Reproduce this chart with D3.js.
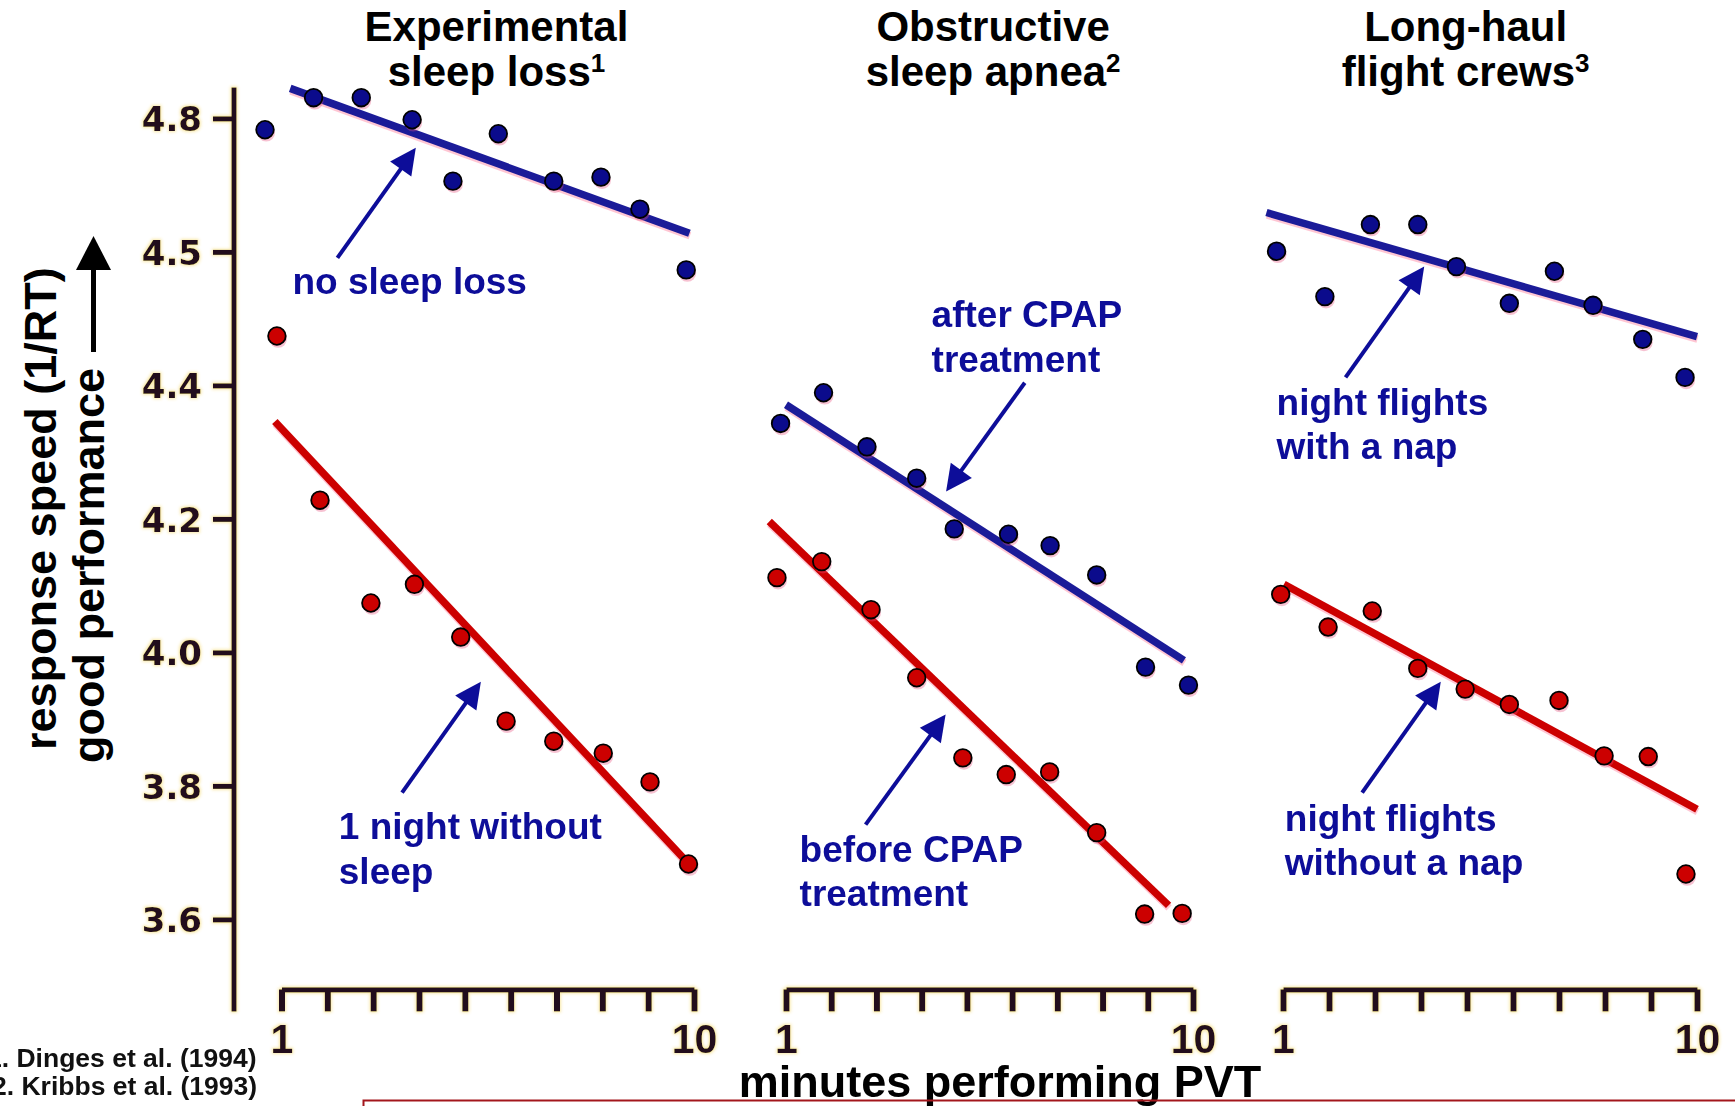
<!DOCTYPE html>
<html>
<head>
<meta charset="utf-8">
<script src="https://cdn.jsdelivr.net/npm/d3@7"></script>
<style>
  html, body { margin: 0; padding: 0; background: #ffffff; }
  svg { display: block; }
  .sans { font-family: "Liberation Sans", Arial, Helvetica, sans-serif; font-weight: bold; }
</style>
</head>
<body>
<svg id="chart" width="1735" height="1106"></svg>
<script>
// ---- Response speed (1/RT) across the minutes of a 10-minute PVT session ----

const minuteTicks = [1, 2, 3, 4, 5, 6, 7, 8, 9, 10];
const minuteTickLabels = ["1", "", "", "", "", "", "", "", "", "10"];
const speedTicks = [4.8, 4.6, 4.4, 4.2, 4.0, 3.8, 3.6];
const speedTickLabels = ["4.8", "4.5", "4.4", "4.2", "4.0", "3.8", "3.6"];

const panelTitles = [
  ["Experimental", "sleep loss", "1"],
  ["Obstructive", "sleep apnea", "2"],
  ["Long-haul", "flight crews", "3"]
];

const footnotes = ["1. Dinges et al. (1994)", "2. Kribbs et al. (1993)"];

// Experimental sleep loss: [minute, response speed]
const noSleepLoss = [[0.64, 4.783], [1.70, 4.831], [2.74, 4.831], [3.85, 4.798], [4.74, 4.706],
                     [5.73, 4.777], [6.94, 4.706], [7.97, 4.712], [8.82, 4.664], [9.83, 4.573]];
const noSleepLossFit = [[1.19, 4.845], [9.90, 4.628]];
const oneNightWithoutSleep = [[0.90, 4.474], [1.84, 4.228], [2.95, 4.074], [3.90, 4.102], [4.91, 4.023],
                              [5.90, 3.897], [6.94, 3.867], [8.02, 3.849], [9.04, 3.806], [9.88, 3.683]];
const oneNightWithoutSleepFit = [[0.855, 4.346], [9.93, 3.680]];

// Obstructive sleep apnea
const afterCPAP = [[0.88, 4.343], [1.83, 4.389], [2.79, 4.308], [3.89, 4.261], [4.72, 4.185],
                   [5.92, 4.177], [6.84, 4.160], [7.87, 4.116], [8.95, 3.978], [9.90, 3.951]];
const afterCPAPFit = [[1.0, 4.371], [9.80, 3.988]];
const beforeCPAP = [[0.80, 4.112], [1.79, 4.136], [2.88, 4.064], [3.89, 3.962], [4.91, 3.842],
                    [5.87, 3.817], [6.83, 3.821], [7.87, 3.730], [8.93, 3.608], [9.76, 3.609]];
const beforeCPAPFit = [[0.63, 4.196], [9.46, 3.621]];

// Long-haul flight crews
const flightsWithNap = [[0.86, 4.601], [1.91, 4.533], [2.90, 4.641], [3.93, 4.641], [4.77, 4.578],
                        [5.92, 4.523], [6.90, 4.571], [7.74, 4.520], [8.82, 4.469], [9.74, 4.412]];
const flightsWithNapFit = [[0.64, 4.659], [10.0, 4.473]];
const flightsWithoutNap = [[0.95, 4.087], [1.98, 4.038], [2.94, 4.062], [3.93, 3.976], [4.96, 3.945],
                           [5.92, 3.922], [7.00, 3.928], [7.98, 3.845], [8.94, 3.844], [9.76, 3.668]];
const flightsWithoutNapFit = [[1.02, 4.102], [10.0, 3.765]];

// ---- layout ----
const BLUE_DOT = "#0b0b8c", BLUE_LINE = "#1b1b98", RED = "#cc0000", NOTE = "#0d0d99";
const AXIS_INK = "#220e1c";

const panelRanges = [[281.5, 694], [786, 1193], [1283, 1697]];
const titleCenters = [5.69, 5.58, 4.97];   // in minutes, per panel

const panels = [
  { series: [
      { pts: noSleepLoss, fit: noSleepLossFit, dot: BLUE_DOT, line: BLUE_LINE },
      { pts: oneNightWithoutSleep, fit: oneNightWithoutSleepFit, dot: RED, line: RED } ] },
  { series: [
      { pts: afterCPAP, fit: afterCPAPFit, dot: BLUE_DOT, line: BLUE_LINE },
      { pts: beforeCPAP, fit: beforeCPAPFit, dot: RED, line: RED } ] },
  { series: [
      { pts: flightsWithNap, fit: flightsWithNapFit, dot: BLUE_DOT, line: BLUE_LINE },
      { pts: flightsWithoutNap, fit: flightsWithoutNapFit, dot: RED, line: RED } ] }
];

// callouts, placed in data units of their panel
const callouts = [
  { panel: 0, lines: ["no sleep loss"], at: [1.24, 4.537], tail: [2.22, 4.591], tip: [3.93, 4.756] },
  { panel: 0, lines: ["1 night without", "sleep"], at: [2.25, 3.720], tail: [3.63, 3.790], tip: [5.35, 3.956] },
  { panel: 1, lines: ["after CPAP", "treatment"], at: [4.22, 4.487], tail: [6.28, 4.404], tip: [4.54, 4.241] },
  { panel: 1, lines: ["before CPAP", "treatment"], at: [1.30, 3.686], tail: [2.76, 3.742], tip: [4.53, 3.907] },
  { panel: 2, lines: ["night flights", "with a nap"], at: [0.86, 4.356], tail: [2.36, 4.412], tip: [4.07, 4.578] },
  { panel: 2, lines: ["night flights", "without a nap"], at: [1.04, 3.733], tail: [2.72, 3.790], tip: [4.43, 3.956] }
];

const svg = d3.select("#chart");

// scanned-print look for the axes: soft edges with a warm halo
const defs = svg.append("defs");
const f = defs.append("filter").attr("id", "scan")
  .attr("filterUnits", "userSpaceOnUse").attr("x", -600).attr("y", -1200)
  .attr("width", 3000).attr("height", 3000);
f.append("feMorphology").attr("in", "SourceAlpha").attr("operator", "dilate").attr("radius", 1.3).attr("result", "fat");
f.append("feGaussianBlur").attr("in", "fat").attr("stdDeviation", 1.4).attr("result", "soft");
f.append("feFlood").attr("flood-color", "#f0cc3a").attr("flood-opacity", 0.45);
f.append("feComposite").attr("in2", "soft").attr("operator", "in").attr("result", "glow");
f.append("feGaussianBlur").attr("in", "SourceGraphic").attr("stdDeviation", 0.5).attr("result", "src");
const m = f.append("feMerge");
m.append("feMergeNode").attr("in", "glow");
m.append("feMergeNode").attr("in", "src");

const y = d3.scaleLinear().domain([3.6, 4.8]).range([919.4, 118.4]);
const xScales = panelRanges.map(r => d3.scaleLinear().domain([1, 10]).range(r));

// ---- y axis ----
const yAxisG = svg.append("g").attr("filter", "url(#scan)").attr("transform", "translate(234,0)");
yAxisG.call(d3.axisLeft(y).tickValues(speedTicks)
  .tickFormat((d, i) => speedTickLabels[i]).tickSize(21).tickPadding(11));
yAxisG.select(".domain").remove();
yAxisG.append("line").attr("x1", 0).attr("x2", 0)
  .attr("y1", y(4.8) - 31).attr("y2", y(3.6) + 92)
  .attr("stroke", AXIS_INK).attr("stroke-width", 5);
yAxisG.selectAll(".tick line").attr("stroke", AXIS_INK).attr("stroke-width", 5);
yAxisG.selectAll(".tick text")
  .attr("fill", AXIS_INK).attr("dy", "0.36em")
  .style("font-family", "'DejaVu Sans', sans-serif").style("font-weight", "bold").style("font-size", "34px");

// y axis title
const yTitle = svg.append("g").attr("class", "sans").attr("fill", "#000").style("font-size", "45px");
yTitle.append("text").attr("transform", "translate(56,750) rotate(-90)").text("response speed (1/RT)");
yTitle.append("text").attr("transform", "translate(103.5,763) rotate(-90)").text("good performance");
yTitle.append("line").attr("x1", 93.5).attr("x2", 93.5).attr("y1", 352).attr("y2", 262)
  .attr("stroke", "#000").attr("stroke-width", 5);
yTitle.append("path").attr("d", d3.line()([[93.5, 236], [76, 270], [111, 270]]) + "Z").attr("fill", "#000");

// ---- panels ----
const xAxisY = y(3.6) + 70;
panels.forEach((p, pi) => {
  const x = xScales[pi];
  const g = svg.append("g");

  // title
  const t = g.append("text").attr("class", "sans").attr("text-anchor", "middle")
    .attr("x", x(titleCenters[pi])).attr("fill", "#000").style("font-size", "42px");
  t.append("tspan").attr("x", x(titleCenters[pi])).attr("y", 41).text(panelTitles[pi][0]);
  const l2 = t.append("tspan").attr("x", x(titleCenters[pi])).attr("y", 86);
  l2.append("tspan").text(panelTitles[pi][1]);
  l2.append("tspan").attr("dy", -14).style("font-size", "26px").text(panelTitles[pi][2]);

  // x axis
  const ax = g.append("g").attr("filter", "url(#scan)").attr("transform", `translate(0,${xAxisY})`);
  ax.call(d3.axisBottom(x).tickValues(minuteTicks)
    .tickFormat((d, i) => minuteTickLabels[i]).tickSize(22).tickSizeOuter(0));
  ax.select(".domain").attr("stroke", AXIS_INK).attr("stroke-width", 5);
  ax.selectAll(".tick line").attr("stroke", AXIS_INK).attr("stroke-width", 6);
  ax.selectAll(".tick text").attr("fill", AXIS_INK).attr("y", 64).attr("dy", 0)
    .style("font-family", "'Liberation Sans', Arial, sans-serif").style("font-weight", "bold").style("font-size", "41px");

  const line = d3.line().x(d => x(d[0])).y(d => y(d[1]));

  // fitted trend lines, with the faint pink offset of the printed original
  p.series.forEach(s => {
    g.append("path").attr("d", line(s.fit)).attr("transform", "translate(0.5,2.5)")
      .attr("stroke", "#ff5c80").attr("stroke-opacity", 0.35).attr("stroke-width", 7.5).attr("fill", "none");
    g.append("path").attr("d", line(s.fit))
      .attr("stroke", s.line).attr("stroke-width", 7.5).attr("fill", "none");
  });

  // points
  p.series.forEach(s => {
    g.append("g").selectAll("circle").data(s.pts).join("circle")
      .attr("cx", d => x(d[0]) + 1.2).attr("cy", d => y(d[1]) + 3).attr("r", 8.8)
      .attr("fill", "#e8507e").attr("opacity", 0.35);
    g.append("g").selectAll("circle").data(s.pts).join("circle")
      .attr("cx", d => x(d[0])).attr("cy", d => y(d[1])).attr("r", 8.8)
      .attr("fill", s.dot).attr("stroke", "#000").attr("stroke-width", 1.8);
  });
});

// ---- callouts ----
callouts.forEach(c => {
  const x = xScales[c.panel];
  const g = svg.append("g");
  const tx = g.append("text").attr("class", "sans").attr("fill", NOTE).style("font-size", "37px");
  c.lines.forEach((s, i) => {
    tx.append("tspan").attr("x", x(c.at[0])).attr("y", y(c.at[1]) + i * 44.5).text(s);
  });
  const x0 = x(c.tail[0]), y0 = y(c.tail[1]), x1 = x(c.tip[0]), y1 = y(c.tip[1]);
  const ang = Math.atan2(y1 - y0, x1 - x0);
  const hl = 26, hw = 13;
  const bx = x1 - hl * Math.cos(ang), by = y1 - hl * Math.sin(ang);
  g.append("line").attr("x1", x0).attr("y1", y0).attr("x2", bx + 2 * Math.cos(ang)).attr("y2", by + 2 * Math.sin(ang))
    .attr("stroke", NOTE).attr("stroke-width", 4);
  g.append("path").attr("fill", NOTE).attr("d", d3.line()([
    [x1, y1],
    [bx + hw * Math.sin(ang), by - hw * Math.cos(ang)],
    [bx - hw * Math.sin(ang), by + hw * Math.cos(ang)]
  ]) + "Z");
});

// ---- shared x axis title, footnotes, and the frame below ----
svg.append("text").attr("class", "sans").attr("text-anchor", "middle")
  .attr("x", 1000).attr("y", 1097).attr("fill", "#000").style("font-size", "45px")
  .text("minutes performing PVT");

svg.append("g").attr("class", "sans").attr("fill", "#111").style("font-size", "26.5px")
  .selectAll("text").data(footnotes).join("text")
  .attr("x", (d, i) => i === 0 ? -13 : -8).attr("y", (d, i) => 1067 + i * 28)
  .text(d => d);

svg.append("rect").attr("x", 363.5).attr("y", 1100.5).attr("width", 1400).attr("height", 60)
  .attr("fill", "none").attr("stroke", "#a3161c").attr("stroke-width", 2);
</script>
</body>
</html>
